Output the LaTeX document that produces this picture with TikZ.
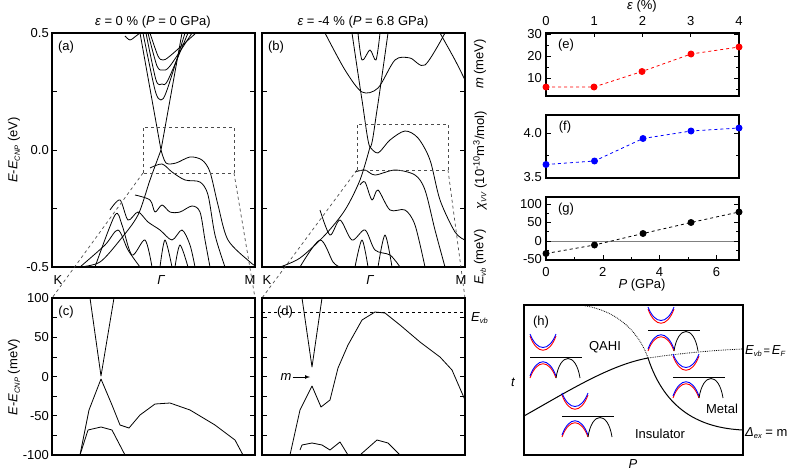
\documentclass[tikz,border=0pt]{standalone}
\usepackage{fontspec}
\setmainfont{Liberation Sans}
\newcommand\lowsub[1]{\raisebox{-0.35ex}{\fontsize{7.5}{8}\selectfont\itshape #1}}
\begin{document}
\begin{tikzpicture}[x=1pt,y=-1pt,
  band/.style={black,line width=0.8pt,line join=round},
  frame/.style={black,line width=1.2pt},
  guide/.style={black!70,dashed,line width=0.7pt},
  tk/.style={black,line width=0.6pt},
  lbl/.style={font=\fontsize{13}{15}\selectfont,inner sep=1pt},
  pics/icon/.style={code={
    \draw[red,line width=0.9pt] (-26,-21) .. controls (-19,-2) and (-7,-2) .. (0,-21);
    \draw[blue,line width=0.9pt] (-26,-23) .. controls (-19,-5) and (-7,-5) .. (0,-23);
    \draw[red,line width=0.9pt] (-26,21) .. controls (-19,2) and (-7,2) .. (0,21);
    \draw[blue,line width=0.9pt] (-26,19) .. controls (-19,0) and (-7,0) .. (0,19);
    \draw[black,line width=0.8pt] (0,21) .. controls (4,-5) and (20,-5) .. (24,21);
    \draw[black,line width=0.8pt] (-26,0) -- (26,0);
  }}]
\useasboundingbox (0,0) rectangle (790,471);
% ---------- panel (a)
\begin{scope}
\clip (52,33) rectangle (255,267);
\draw[band] (140,33) -- (161,150) -- (182,33);
\draw[band] plot[smooth] coordinates {(143,33)(155,90)(161,100)(167,90)(185,33)};
\draw[band] plot[smooth] coordinates {(146,33)(156,80)(162,84)(168,80)(188,33)};
\draw[band] plot[smooth] coordinates {(148,33)(157,66)(163,70)(170,66)(192,33)};
\draw[band] plot[smooth] coordinates {(150,33)(158,56)(163,60)(170,56)(196,33)};
\draw[band] plot[smooth] coordinates {(125,36)(130,40)(136,36)(140,33)};
\draw[band] plot[smooth] coordinates {(161,150)(166,163)(176,163)(190,157)(202,160)(210,172)(218,205)(228,240)(250,262)(256,266)};
\draw[band] plot[smooth] coordinates {(161,150)(150,180)(138,215)(120,240)(100,262)(80,267)};
\draw[band] plot[smooth] coordinates {(150,168)(162,164)(172,172)(185,180)(200,182)(208,195)(215,235)(225,267)};
\draw[band] plot[smooth] coordinates {(135,195)(150,200)(155,212)(162,205)(170,212)(180,212)(192,206)(200,212)(205,240)(210,267)};
\draw[band] plot[smooth] coordinates {(110,210)(120,200)(128,220)(138,212)(148,222)(160,230)(172,240)(182,230)(190,245)(195,267)};
\draw[band] plot[smooth] coordinates {(80,267)(105,245)(118,230)(128,250)(140,267)};
\draw[band] plot[smooth] coordinates {(95,267)(115,215)(122,225)(132,255)(145,240)(152,267)};
\draw[band] plot[smooth] coordinates {(160,267)(165,240)(172,267)};
\draw[band] plot[smooth] coordinates {(175,267)(180,245)(188,267)};
\end{scope}
\draw[guide] (143,173) rectangle (234,127);
\draw[frame] (52,33) rectangle (255,267);
% ---------- panel (b)
\begin{scope}
\clip (262,33) rectangle (465,267);
\draw[band] plot[smooth] coordinates {(352,33)(362,100)(370,147)(377,110)(388,33)};
\draw[band] plot[smooth] coordinates {(325,33)(345,70)(362,92)(378,88)(395,60)(410,58)(425,65)(445,33)};
\draw[band] plot[smooth] coordinates {(358,33)(362,60)(370,50)(376,60)(380,33)};
\draw[band] plot[smooth] coordinates {(440,33)(455,60)(465,80)};
\draw[band] plot[smooth] coordinates {(370,147)(378,153)(390,140)(405,131)(418,138)(430,160)(440,200)(455,232)(465,240)};
\draw[band] plot[smooth] coordinates {(370,147)(360,180)(345,210)(325,235)(300,258)(280,267)};
\draw[band] plot[smooth] coordinates {(355,172)(365,170)(375,175)(395,170)(415,175)(425,190)(435,230)(445,267)};
\draw[band] plot[smooth] coordinates {(360,185)(365,182)(372,200)(378,190)(390,210)(405,210)(415,225)(425,267)};
\draw[band] plot[smooth] coordinates {(320,210)(330,235)(340,220)(352,240)(365,230)(375,250)(390,255)(400,267)};
\draw[band] plot[smooth] coordinates {(300,267)(320,240)(333,262)(340,267)};
\draw[band] plot[smooth] coordinates {(355,267)(362,240)(368,267)};
\draw[band] plot[smooth] coordinates {(378,267)(385,235)(392,267)};
\end{scope}
\draw[guide] (357,170) rectangle (448,124);
\draw[frame] (262,33) rectangle (465,267);
% zoom guide lines
\draw[guide] (143,173) -- (52,298);
\draw[guide] (234,173) -- (255,298);
\draw[guide] (357,170) -- (262,298);
\draw[guide] (448,170) -- (465,298);
% ---------- panel (c)
\begin{scope}
\clip (52,298) rectangle (255,455);
\draw[band] (90,298) -- (101,376) -- (114,298);
\draw[band] (80,455) -- (89,410) -- (101,379) -- (112,405) -- (120,425) -- (129,428) -- (140,415) -- (155,404) -- (170,403) -- (190,410) -- (215,425) -- (235,440) -- (243,455);
\draw[band] (80,455) -- (88,430) -- (101,427) -- (112,430) -- (125,455);
\end{scope}
\draw[frame] (52,298) rectangle (255,455);
% ---------- panel (d)
\begin{scope}
\clip (262,298) rectangle (465,455);
\draw[band] (302,298) -- (312,367) -- (322,298);
\draw[band] (290,455) -- (300,410) -- (312,386) -- (321,407) -- (330,400) -- (338,368) -- (348,345) -- (362,320) -- (375,312) -- (385,313) -- (400,325) -- (420,342) -- (440,357) -- (452,370) -- (465,400);
\draw[band] (300,450) -- (302,445) -- (312,443) -- (322,445) -- (330,450) -- (340,442) -- (348,455);
\draw[band] (360,455) -- (377,440) -- (388,443) -- (400,455);
\end{scope}
\draw[black,dashed,line width=0.6pt] (262,312) -- (465,312);
\draw[frame] (262,298) rectangle (465,455);
\node[lbl,anchor=west] (evb) at (470,318) {\itshape E\lowsub{vb}};
\node[lbl] (mlab) at (286,377) {\itshape m};
\coordinate (marr) at (310,377);
\draw[-latex,line width=0.7pt] (mlab.east) -- (marr);
% ticks for (a)-(d)
\foreach \x in {52,262}{
  \foreach \y in {33,91.5,150,208.5,267}{\draw[tk] (\x,\y) -- (\x+5,\y); \draw[tk] (\x+203,\y) -- (\x+198,\y);}
  \foreach \k in {0,...,8}{\draw[tk] (\x,298+\k*19.6) -- (\x+5,298+\k*19.6); \draw[tk] (\x+203,298+\k*19.6) -- (\x+198,298+\k*19.6);}
}
\foreach \y/\t in {33/0.5,150/0.0,267/-0.5}{\node[lbl,anchor=east] at (50,\y) {\t};}
\foreach \y/\t in {298/100,337/50,377/0,416/-50,455/-100}{\node[lbl,anchor=east] at (50,\y) {\t};}
\foreach \x/\t in {58/K,250/M,267/K,461/M}{\node[lbl] at (\x,280) {\t};}
\node[lbl] at (161,280) {\itshape Γ};
\node[lbl] at (370,280) {\itshape Γ};
\node[lbl] at (66,47) {(a)};
\node[lbl] at (276,47) {(b)};
\node[lbl] at (66,312) {(c)};
\node[lbl] at (285,312) {(d)};
\node[lbl] at (153,22) {{\itshape ε} = 0 \% ({\itshape P} = 0 GPa)};
\node[lbl] at (363,22) {{\itshape ε} = -4 \% ({\itshape P} = 6.8 GPa)};
\node[lbl,rotate=90] at (14,150) {{\itshape E}-{\itshape E}\lowsub{CNP} (eV)};
\node[lbl,rotate=90] at (14,377) {{\itshape E}-{\itshape E}\lowsub{CNP} (meV)};
% ---------- panel (e)
\draw[frame] (546,33) rectangle (739,96);
\foreach \e in {0,...,4}{\node[lbl] at (546+48.25*\e,21) {\e}; \draw[tk] (546+48.25*\e,33) -- (546+48.25*\e,37);}
\node[lbl] at (642,6) {{\itshape ε} (\%)};
\foreach \v/\y in {10/78,20/56,30/34}{\node[lbl,anchor=east] at (543,\y) {\v}; \draw[tk] (546,\y) -- (551,\y); \draw[tk] (739,\y) -- (734,\y);}
\foreach \y in {89,67,45}{\draw[tk] (546,\y) -- (549,\y); \draw[tk] (739,\y) -- (736,\y);}
\node[lbl] at (566,45) {(e)};
\draw[red,dashed,line width=0.8pt] (546,87) -- (594,87) -- (642,71.5) -- (691,54) -- (739,47);
\foreach \x/\y in {546/87,594/87,642/71.5,691/54,739/47}{\fill[red] (\x,\y) circle (3.5);}
\node[lbl,rotate=90] at (480,64) {{\itshape m} (meV)};
% ---------- panel (f)
\draw[frame] (546,115) rectangle (739,178);
\foreach \v/\y in {3.5/177,4.0/133}{\node[lbl,anchor=east] at (543,\y) {\v}; \draw[tk] (546,\y) -- (551,\y); \draw[tk] (739,\y) -- (734,\y);}
\foreach \y in {155}{\draw[tk] (546,\y) -- (549,\y); \draw[tk] (739,\y) -- (736,\y);}
\node[lbl] at (565,127) {(f)};
\draw[blue,dashed,line width=0.8pt] (546,164.5) -- (594.5,161) -- (643,138.5) -- (691,131) -- (739,128);
\foreach \x/\y in {546/164.5,594.5/161,643/138.5,691/131,739/128}{\fill[blue] (\x,\y) circle (3.5);}
\node[lbl,rotate=90] at (480,160) {{\itshape χ}\lowsub{VV} (10\textsuperscript{-10}m\textsuperscript{3}/mol)};
% ---------- panel (g)
\draw[frame] (546,197) rectangle (739,260);
\draw[black!50,line width=0.6pt] (546,241) -- (739,241);
\foreach \v/\y in {100/204,50/222,0/241,-50/259}{\node[lbl,anchor=east] at (543,\y) {\v}; \draw[tk] (546,\y) -- (551,\y); \draw[tk] (739,\y) -- (734,\y);}
\foreach \y in {213,231.5,250}{\draw[tk] (546,\y) -- (549,\y); \draw[tk] (739,\y) -- (736,\y);}
\foreach \p in {0,2,4,6}{\node[lbl] at (546+28.4*\p,272) {\p}; \draw[tk] (546+28.4*\p,260) -- (546+28.4*\p,255);}
\foreach \p in {1,3,5}{\draw[tk] (546+28.4*\p,260) -- (546+28.4*\p,257);}
\node[lbl] at (566,209) {(g)};
\draw[black,dashed,line width=0.8pt] (546,253.5) -- (594.5,245) -- (643,233.5) -- (691,222.5) -- (739,212);
\foreach \x/\y in {546/253.5,594.5/245,643/233.5,691/222.5,739/212}{\fill[black] (\x,\y) circle (3.5);}
\node[lbl,rotate=90] at (480,257) {{\itshape E}\lowsub{vb} (meV)};
\node[lbl] at (642,285) {{\itshape P} (GPa)};
% ---------- panel (h)
\draw[frame] (524,305) rectangle (743,455);
\draw[line width=1pt] (524,416) .. controls (570,390) and (610,365) .. (648,358);
\draw[densely dotted,line width=0.8pt] (648,358) .. controls (690,352) and (720,350) .. (743,349);
\draw[densely dotted,line width=0.8pt] (580,305) .. controls (620,310) and (640,335) .. (648,358);
\draw[line width=1pt] (648,358) .. controls (665,410) and (700,428) .. (743,430);
\node[lbl] at (541,322) {(h)};
\node[lbl] at (605,347) {QAHI};
\node[lbl] at (722,409) {Metal};
\node[lbl] at (660,434) {Insulator};
\node[lbl,anchor=west] at (744,351) {{\itshape E}\lowsub{vb}{\fontsize{11}{13}\selectfont\,=\,}{\itshape E}\lowsub{F}};
\node[lbl,anchor=west] at (744,433) {{\itshape Δ}\lowsub{ex} = m};
\node[lbl] at (513,382) {\itshape t};
\node[lbl] at (633,464) {\itshape P};
\pic at (556,357) {icon};
\pic at (588,416) {icon};
\pic at (674,330) {icon};
\pic at (699,377) {icon};
\end{tikzpicture}
\end{document}
